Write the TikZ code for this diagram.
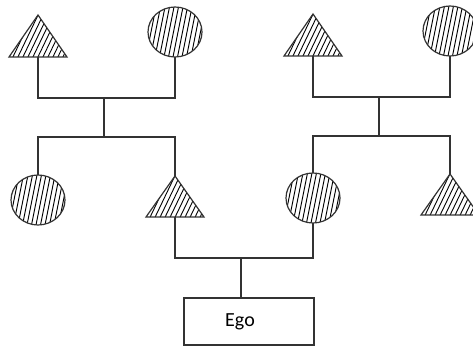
\documentclass[tikz,border=0pt]{standalone}
\usepackage{fontspec}
\setmainfont{Carlito}
\begin{document}
\begin{tikzpicture}[x=1pt,y=-1pt,
  conn/.style={draw=black!80,line width=1.2pt},
  outline/.style={draw=black!80,line width=1.2pt},
  hatchline/.style={black,line width=0.9pt},
  hatchC/.style={path picture={\foreach \i in {-42,-37.5,...,42}
     \draw[hatchline] ([shift={(\i+6,-30)}]path picture bounding box.center) -- ++(-12,60);}},
  hatchT/.style={path picture={\foreach \i in {-50,-45,...,50}
     \draw[hatchline] ([shift={(\i+12,-25)}]path picture bounding box.center) -- ++(-24,50);}},
  egobox/.style={draw=black!80,line width=1.2pt,minimum width=130pt,minimum height=47pt,inner sep=0pt,font=\fontsize{20}{23}\selectfont}
]
\useasboundingbox (0,0) rectangle (473,347);
% generation 1
\path[outline,hatchT] (38,15) coordinate (t1a) -- (9,57) coordinate (t1l) -- (67,57) -- cycle;
\coordinate (t1b) at (38,57);
\path[outline,hatchC] (175,32) coordinate (c1) ellipse [x radius=27,y radius=25];
\coordinate (c1b) at (175,57);
\path[outline,hatchT] (313,14) coordinate (t2a) -- (284,56) -- (342,56) -- cycle;
\coordinate (t2b) at (313,56);
\path[outline,hatchC] (450,31) coordinate (c2) ellipse [x radius=27,y radius=25];
\coordinate (c2b) at (450,56);
% generation 2
\path[outline,hatchC] (38,200) coordinate (c3) ellipse [x radius=27,y radius=25];
\coordinate (c3t) at (38,175);
\path[outline,hatchT] (175,176) coordinate (t3a) -- (146,217) -- (204,217) -- cycle;
\coordinate (t3b) at (175,217);
\path[outline,hatchC] (313,198) coordinate (c4) ellipse [x radius=27,y radius=25];
\coordinate (c4t) at (313,173);
\coordinate (c4b) at (313,223);
\path[outline,hatchT] (450,174) coordinate (t4a) -- (421,215) -- (479,215) -- cycle;
% ego
\node[egobox] (ego) at (249,321.5) {\hspace*{-18pt}\raisebox{1pt}{Ego}};
% junctions
\coordinate (j1) at (104,98);
\coordinate (j1b) at (104,137);
\coordinate (j2) at (379,97);
\coordinate (j2b) at (379,136);
\coordinate (j3) at (241,258);
% connectors
\draw[conn] (t1b) |- (j1) -| (c1b);
\draw[conn] (j1) -- (j1b);
\draw[conn] (c3t) |- (j1b) -| (t3a);
\draw[conn] (t2b) |- (j2) -| (c2b);
\draw[conn] (j2) -- (j2b);
\draw[conn] (c4t) |- (j2b) -| (t4a);
\draw[conn] (t3b) |- (j3) -| (c4b);
\draw[conn] (j3) -- (j3 |- ego.north);
\end{tikzpicture}
\end{document}
